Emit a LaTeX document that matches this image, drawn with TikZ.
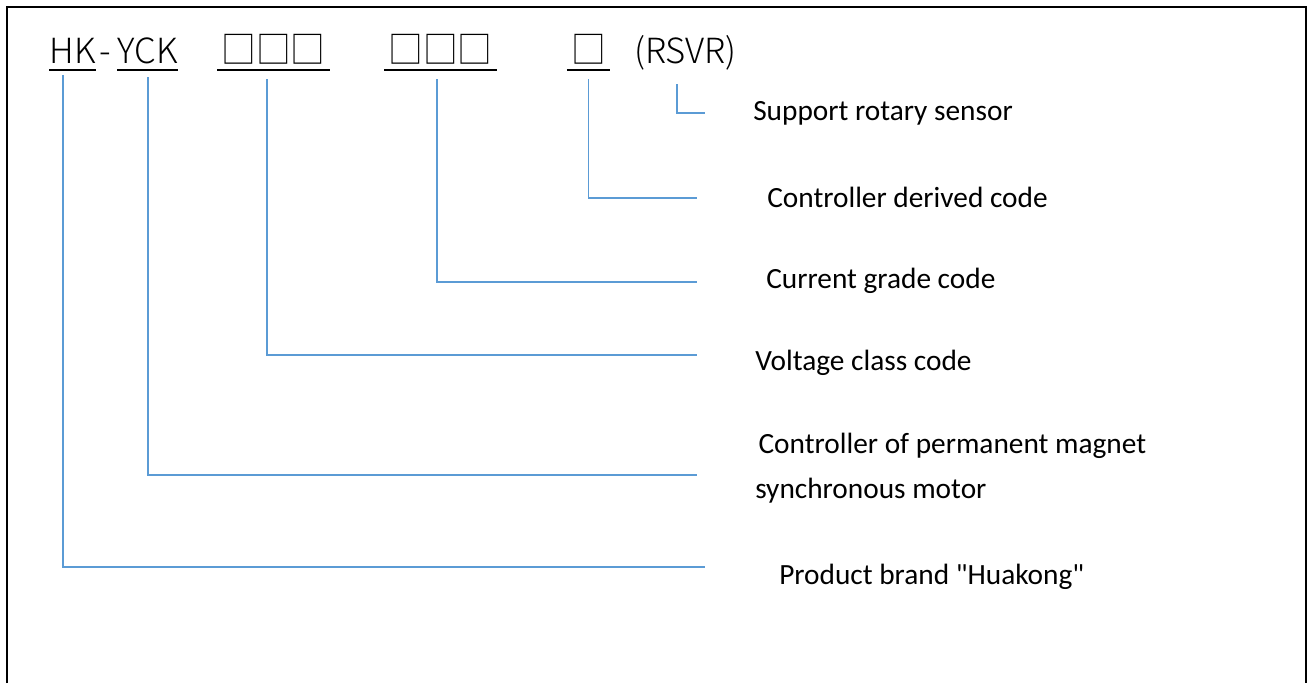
\documentclass[tikz,border=0pt]{standalone}
\usepackage{fontspec}
\setmainfont{Carlito}[Ligatures=TeXOff]
\IfFontExistsTF{Noto Sans CJK SC Light}
  {\newfontfamily\cjk{Noto Sans CJK SC Light}}
  {\newfontfamily\cjk{Noto Sans CJK SC}}
\definecolor{leadblue}{RGB}{91,155,213}
\tikzstyle{code} = [inner sep=0pt, anchor=base, font=\cjk\fontsize{26}{30}\selectfont]
\tikzstyle{boxes} = [code, inner xsep=3pt, yscale=1.08]
\tikzstyle{desc} = [inner sep=0pt, anchor=west, align=left, font=\fontsize{22}{33.75}\selectfont]
\tikzstyle{lead} = [draw, leadblue, line width=1.1pt]
\tikzstyle{uline} = [draw, line width=1.7pt]

\begin{document}
\begin{tikzpicture}[x=0.75pt,y=-0.75pt]

\useasboundingbox (0,0) rectangle (1308,683);
\draw[line width=2.2pt] (7,683) -- (7,7) -- (1306,7) -- (1306,683);

% model code
\node[code](hk) at (72.5,63) {HK};
\node[code](dash) at (105.5,63) {-};
\node[code](yck) at (147.5,63) {YCK};
\node[boxes](codeA) at (273.5,63) {□□□};
\node[boxes](codeB) at (440.5,63) {□□□};
\node[boxes](codeC) at (588.5,63) {□};
\node[code](rsvr) at (685.5,63) {(RSVR)};
\foreach \n in {hk,yck,codeA,codeB,codeC}
  \path[uline] ([yshift=-5.25pt]\n.base west) -- ([yshift=-5.25pt]\n.base east);

% meanings
\node[desc](rot) at (753,113) {Support rotary sensor};
\node[desc](deriv) at (767,197) {Controller derived code};
\node[desc](curr) at (766,281) {Current grade code};
\node[desc](volt) at (755,363) {Voltage class code};
\node[desc](pmsm) at (755,468.5) {\hspace{2.5pt}Controller of permanent magnet\\synchronous motor};
\node[desc](brand) at (779,577) {Product brand "Huakong"};

\coordinate (rotend) at (705,113);
\coordinate (derivend) at (697,198);
\coordinate (currend) at (697,282);
\coordinate (voltend) at (697,355);
\coordinate (pmsmend) at (697,475);
\coordinate (brandend) at (705,567);

\path[lead] ([xshift=-6.4pt,yshift=-16pt]rsvr.base) |- (rotend);
\path[lead] ([yshift=-12pt]codeC.base) |- (derivend);
\path[lead] ([xshift=-2.6pt,yshift=-12pt]codeB.base) |- (currend);
\path[lead] ([xshift=-4.9pt,yshift=-12pt]codeA.base) |- (voltend);
\path[lead] ([xshift=0.4pt,yshift=-10.5pt]yck.base) |- (pmsmend);
\path[lead] ([xshift=-7.1pt,yshift=-9pt]hk.base) |- (brandend);

\end{tikzpicture}
\end{document}
